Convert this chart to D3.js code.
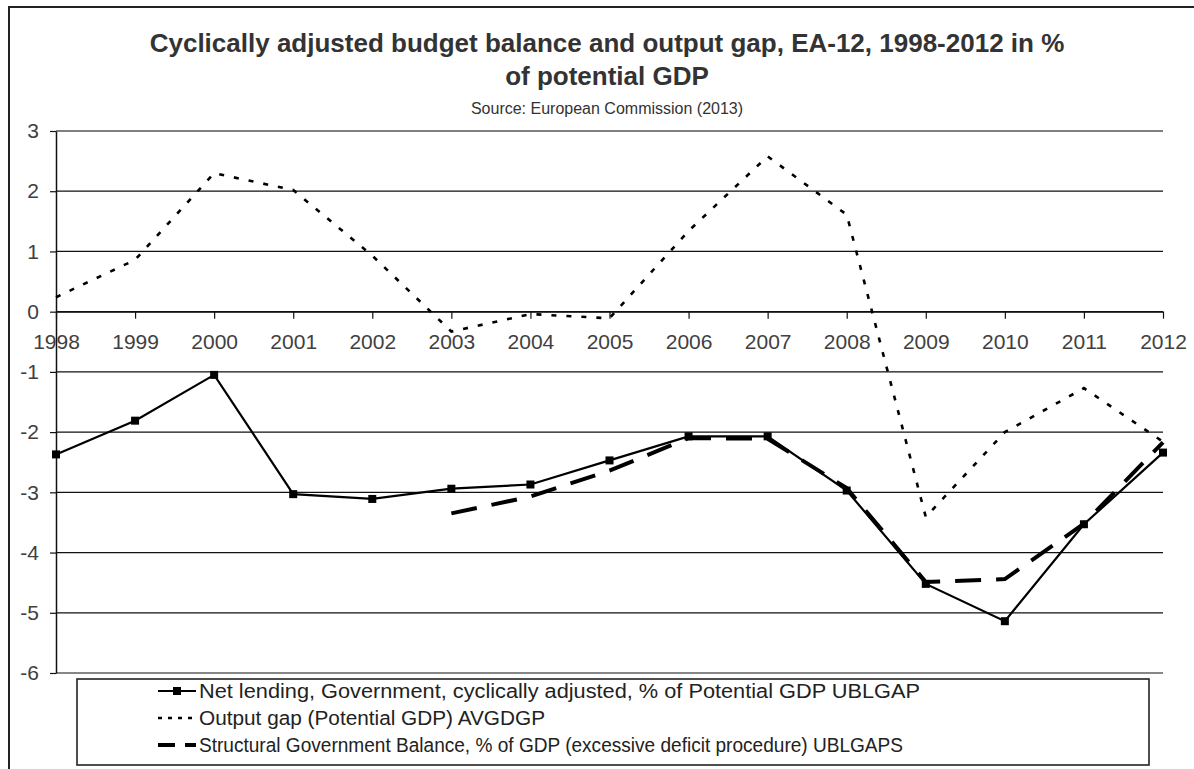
<!DOCTYPE html>
<html>
<head>
<meta charset="utf-8">
<script src="https://cdn.jsdelivr.net/npm/d3@7"></script>
<style>
  html, body { margin: 0; padding: 0; background: #fff; }
  svg { display: block; }
  text { font-family: "Liberation Sans", Arial, sans-serif; }
</style>
</head>
<body>
<svg id="chart" width="1194" height="769"></svg>
<script>
// ---- Data ----
const years = [1998, 1999, 2000, 2001, 2002, 2003, 2004, 2005, 2006, 2007, 2008, 2009, 2010, 2011, 2012];
const netLending = [-2.37, -1.81, -1.05, -3.03, -3.11, -2.94, -2.87, -2.47, -2.07, -2.07, -2.97, -4.52, -5.14, -3.53, -2.34];
const outputGap = [0.24, 0.86, 2.30, 2.02, 0.93, -0.33, -0.04, -0.11, 1.34, 2.58, 1.61, -3.41, -2.00, -1.27, -2.16];
const structural = [null, null, null, null, null, -3.35, -3.07, -2.64, -2.10, -2.11, -2.93, -4.49, -4.44, -3.52, -2.17];
const yTicks = [3, 2, 1, 0, -1, -2, -3, -4, -5, -6];
const titleLines = ["Cyclically adjusted budget balance and output gap, EA-12, 1998-2012 in %", "of potential GDP"];
const subtitle = "Source: European Commission (2013)";
const legendLabels = [
  "Net lending, Government, cyclically adjusted, % of Potential GDP UBLGAP",
  "Output gap (Potential GDP) AVGDGP",
  "Structural Government Balance, % of GDP (excessive deficit procedure) UBLGAPS"
];
const legendWidths = [721, 346, 704];

(function () {
// ---- Layout ----
const svg = d3.select("#chart");
const pLeft = 56, pRight = 1163, pTop = 131, pBottom = 673;
const x = d3.scaleLinear().domain([1998, 2012]).range([pLeft, pRight]);
const y = d3.scaleLinear().domain([-6, 3]).range([pBottom, pTop]);

// outer frame (left and top edges visible)
svg.append("path")
  .attr("d", `M9,775 L9,7 L1200,7`)
  .attr("fill", "none").attr("stroke", "#222").attr("stroke-width", 2);

// titles
svg.append("text").attr("x", 607).attr("y", 52).attr("text-anchor", "middle")
  .attr("font-size", 26).attr("font-weight", "bold").attr("fill", "#333").text(titleLines[0]);
svg.append("text").attr("x", 607).attr("y", 85).attr("text-anchor", "middle")
  .attr("font-size", 26).attr("font-weight", "bold").attr("fill", "#333").text(titleLines[1]);
svg.append("text").attr("x", 607).attr("y", 114).attr("text-anchor", "middle")
  .attr("font-size", 16).attr("fill", "#333").text(subtitle);

// gridlines
svg.append("g").selectAll("line").data(yTicks).join("line")
  .attr("x1", pLeft).attr("x2", pRight)
  .attr("y1", d => y(d)).attr("y2", d => y(d))
  .attr("stroke", d => d === 3 ? "#555" : "#111").attr("stroke-width", d => d === 3 ? 1.6 : 1.2);

// y axis
const yAxis = svg.append("g").attr("transform", `translate(${pLeft},0)`)
  .call(d3.axisLeft(y).tickValues(yTicks).tickSize(6).tickSizeOuter(0).tickPadding(11).tickFormat(d3.format("d")));
yAxis.select(".domain").attr("stroke", "#111").attr("stroke-width", 1.5);
yAxis.selectAll(".tick line").attr("stroke", "#111").attr("stroke-width", 1.2);
yAxis.selectAll(".tick text").attr("font-size", 21).attr("fill", "#404040")
  .attr("font-family", "Liberation Sans, Arial, sans-serif").text(d => d < 0 ? "-" + Math.abs(d) : d);

// x axis at y = 0
const xAxis = svg.append("g").attr("transform", `translate(0,${y(0)})`)
  .call(d3.axisBottom(x).tickValues(years).tickSize(7).tickSizeOuter(0).tickPadding(15).tickFormat(d => String(d)));
xAxis.select(".domain").attr("stroke", "#111").attr("stroke-width", 1.2);
xAxis.selectAll(".tick line").attr("stroke", "#111").attr("stroke-width", 1.2);
xAxis.selectAll(".tick text").attr("font-size", 21).attr("fill", "#404040")
  .attr("font-family", "Liberation Sans, Arial, sans-serif");

// ---- series ----
const mk = vals => years.map((yr, i) => ({ yr, v: vals[i] }));
const line = d3.line().defined(d => d.v !== null).x(d => x(d.yr)).y(d => y(d.v));

// output gap (dotted)
svg.append("path").datum(mk(outputGap)).attr("d", line)
  .attr("fill", "none").attr("stroke", "#000").attr("stroke-width", 2.6)
  .attr("stroke-dasharray", "5,10");

// net lending (solid with square markers)
svg.append("path").datum(mk(netLending)).attr("d", line)
  .attr("fill", "none").attr("stroke", "#000").attr("stroke-width", 2.2);
svg.append("g").selectAll("rect").data(mk(netLending)).join("rect")
  .attr("x", d => x(d.yr) - 4).attr("y", d => y(d.v) - 4)
  .attr("width", 8).attr("height", 8).attr("fill", "#000");

// structural (long dash)
svg.append("path").datum(mk(structural)).attr("d", line)
  .attr("fill", "none").attr("stroke", "#000").attr("stroke-width", 4)
  .attr("stroke-dasharray", "26,15");

// ---- legend ----
svg.append("rect").attr("x", 77).attr("y", 679).attr("width", 1072).attr("height", 86)
  .attr("fill", "#fff").attr("stroke", "#222").attr("stroke-width", 1.6);
const rowsY = [691, 718, 745];
const lg = svg.append("g");
// row 1
lg.append("line").attr("x1", 158).attr("x2", 196).attr("y1", rowsY[0]).attr("y2", rowsY[0])
  .attr("stroke", "#000").attr("stroke-width", 2.2);
lg.append("rect").attr("x", 173).attr("y", rowsY[0] - 4).attr("width", 8).attr("height", 8).attr("fill", "#000");
// row 2
lg.append("line").attr("x1", 158).attr("x2", 196).attr("y1", rowsY[1]).attr("y2", rowsY[1])
  .attr("stroke", "#000").attr("stroke-width", 2.6).attr("stroke-dasharray", "4,6");
// row 3
lg.append("line").attr("x1", 158).attr("x2", 196).attr("y1", rowsY[2]).attr("y2", rowsY[2])
  .attr("stroke", "#000").attr("stroke-width", 4).attr("stroke-dasharray", "17,10");
lg.selectAll("text").data(legendLabels).join("text")
  .attr("x", 199).attr("y", (d, i) => rowsY[i] + 7)
  .attr("font-size", 20).attr("fill", "#222")
  .attr("textLength", (d, i) => legendWidths[i]).attr("lengthAdjust", "spacingAndGlyphs")
  .text(d => d);
})();
</script>
</body>
</html>
